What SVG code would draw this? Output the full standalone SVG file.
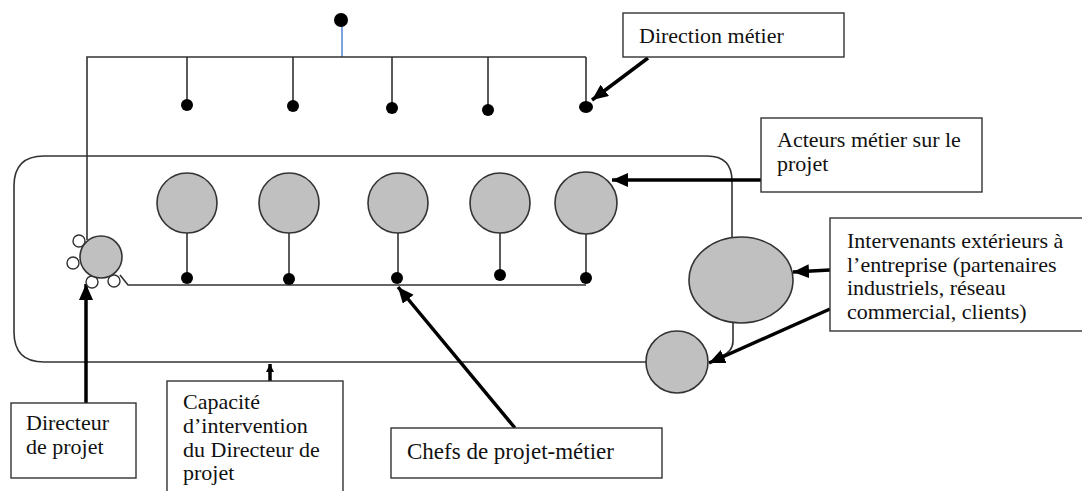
<svg xmlns="http://www.w3.org/2000/svg" width="1082" height="491" viewBox="0 0 1082 491">
  <style>
    .line { fill: none; stroke: #333; stroke-width: 1.6; }
    .actor { fill: #c0c0c0; stroke: #333; stroke-width: 1.6; }
    .dot { fill: #000; }
    .small { fill: #fff; stroke: #333; stroke-width: 1.4; }
    .box { fill: #fff; stroke: #333; stroke-width: 1.4; }
    .label { font-family: "Liberation Serif", "Times New Roman", serif; font-size: 22px; fill: #111; }
    .arrow { fill: none; stroke: #000; stroke-width: 3.5; }
  </style>
  <defs>
    <marker id="head" markerUnits="userSpaceOnUse" markerWidth="18" markerHeight="16" refX="16" refY="7" orient="auto">
      <path d="M0,0 L16,7 L0,14 z" fill="#000"/>
    </marker>
    <marker id="head-small" markerUnits="userSpaceOnUse" markerWidth="10" markerHeight="10" refX="8" refY="4" orient="auto">
      <path d="M0,0 L8,4 L0,8 z" fill="#000"/>
    </marker>
  </defs>

  <!-- Connectors -->
  <g id="connectors">
    <!-- top hierarchy bar -->
    <line x1="342" y1="26" x2="342" y2="57" stroke="#4a7fd0" stroke-width="1.4"/>
    <path class="line" d="M87,240 L87,57 L586,57"/>
    <path class="line" d="M187,57 V105 M293,57 V106 M392,57 V108 M488,57 V110 M586,57 V107"/>
    <!-- project perimeter -->
    <path class="line" d="M646,362 L44,362 Q14,362 14,332 L14,186 Q14,156 44,156 L707,156 Q732,156 732,181 L732,237"/>
    <path class="line" d="M733,323 L733,341 Q733,352 720,357"/>
    <!-- chefs line -->
    <path class="line" d="M120,275 L128,285 L586,285"/>
    <path class="line" d="M187,233 V278 M289,233 V279 M398,233 V278 M500,233 V275 M586,234 V278"/>
    <!-- label arrows -->
    <line class="arrow" x1="648" y1="58" x2="592" y2="100" marker-end="url(#head)"/>
    <line class="arrow" x1="761" y1="180" x2="612" y2="180" marker-end="url(#head)"/>
    <line class="arrow" x1="830" y1="270" x2="793" y2="272" marker-end="url(#head)"/>
    <line class="arrow" x1="830" y1="309" x2="709" y2="363" marker-end="url(#head)" stroke-width="3"/>
    <line class="arrow" x1="86" y1="403" x2="86" y2="284" marker-end="url(#head)"/>
    <line class="arrow" x1="515" y1="428" x2="398" y2="287" marker-end="url(#head)" stroke-width="3"/>
    <line class="arrow" x1="270" y1="381" x2="270" y2="364" marker-end="url(#head-small)" stroke-width="2.5"/>
  </g>

  <!-- Direction -->
  <g id="direction">
    <circle class="dot" cx="341" cy="20" r="7"/>
  </g>
  <g id="direction-members">
    <circle class="dot" cx="187" cy="105" r="6"/>
    <circle class="dot" cx="293" cy="106" r="6"/>
    <circle class="dot" cx="392" cy="108" r="6"/>
    <circle class="dot" cx="488" cy="110" r="6"/>
    <ellipse class="dot" cx="586" cy="107" rx="7" ry="6"/>
  </g>

  <!-- Acteurs métier -->
  <g id="acteurs">
    <circle class="actor" cx="187" cy="203" r="30"/>
    <circle class="actor" cx="289" cy="203" r="30"/>
    <circle class="actor" cx="398" cy="203" r="30"/>
    <circle class="actor" cx="500" cy="203" r="30"/>
    <circle class="actor" cx="586" cy="203" r="31"/>
  </g>

  <!-- Chefs de projet-métier -->
  <g id="chefs">
    <circle class="dot" cx="187" cy="278" r="6"/>
    <circle class="dot" cx="289" cy="279" r="6"/>
    <circle class="dot" cx="397" cy="278" r="6"/>
    <circle class="dot" cx="500" cy="275" r="6"/>
    <circle class="dot" cx="586" cy="278" r="6"/>
  </g>

  <!-- Directeur de projet -->
  <g id="directeur">
    <circle class="small" cx="79" cy="241" r="6"/>
    <circle class="small" cx="73" cy="263" r="6"/>
    <circle class="small" cx="92" cy="282" r="6"/>
    <circle class="small" cx="114" cy="281" r="6"/>
    <circle class="actor" cx="101" cy="257" r="21"/>
  </g>

  <!-- Intervenants extérieurs -->
  <g id="exterieurs">
    <ellipse class="actor" cx="741" cy="280" rx="52" ry="43"/>
    <circle class="actor" cx="677" cy="362" r="31"/>
  </g>

  <!-- Label boxes -->
  <g id="label-direction">
    <rect class="box" x="623" y="13" width="221" height="44"/>
    <text class="label" x="639" y="43">Direction métier</text>
  </g>
  <g id="label-acteurs">
    <rect class="box" x="761" y="118" width="221" height="74"/>
    <text class="label" x="777" y="147">Acteurs métier sur le</text>
    <text class="label" x="777" y="171">projet</text>
  </g>
  <g id="label-exterieurs">
    <rect class="box" x="830" y="218" width="255" height="113"/>
    <text class="label" x="847" y="248">Intervenants extérieurs à</text>
    <text class="label" x="847" y="272">l’entreprise (partenaires</text>
    <text class="label" x="847" y="295">industriels, réseau</text>
    <text class="label" x="847" y="319">commercial, clients)</text>
  </g>
  <g id="label-directeur">
    <rect class="box" x="11" y="403" width="125" height="75"/>
    <text class="label" x="26" y="430">Directeur</text>
    <text class="label" x="26" y="454">de projet</text>
  </g>
  <g id="label-capacite">
    <rect class="box" x="167" y="381" width="176" height="120"/>
    <text class="label" x="183" y="409">Capacité</text>
    <text class="label" x="183" y="433">d’intervention</text>
    <text class="label" x="183" y="457">du Directeur de</text>
    <text class="label" x="183" y="480">projet</text>
  </g>
  <g id="label-chefs">
    <rect class="box" x="391" y="428" width="271" height="50"/>
    <text class="label" x="407" y="459" style="font-size:23px">Chefs de projet-métier</text>
  </g>
</svg>
